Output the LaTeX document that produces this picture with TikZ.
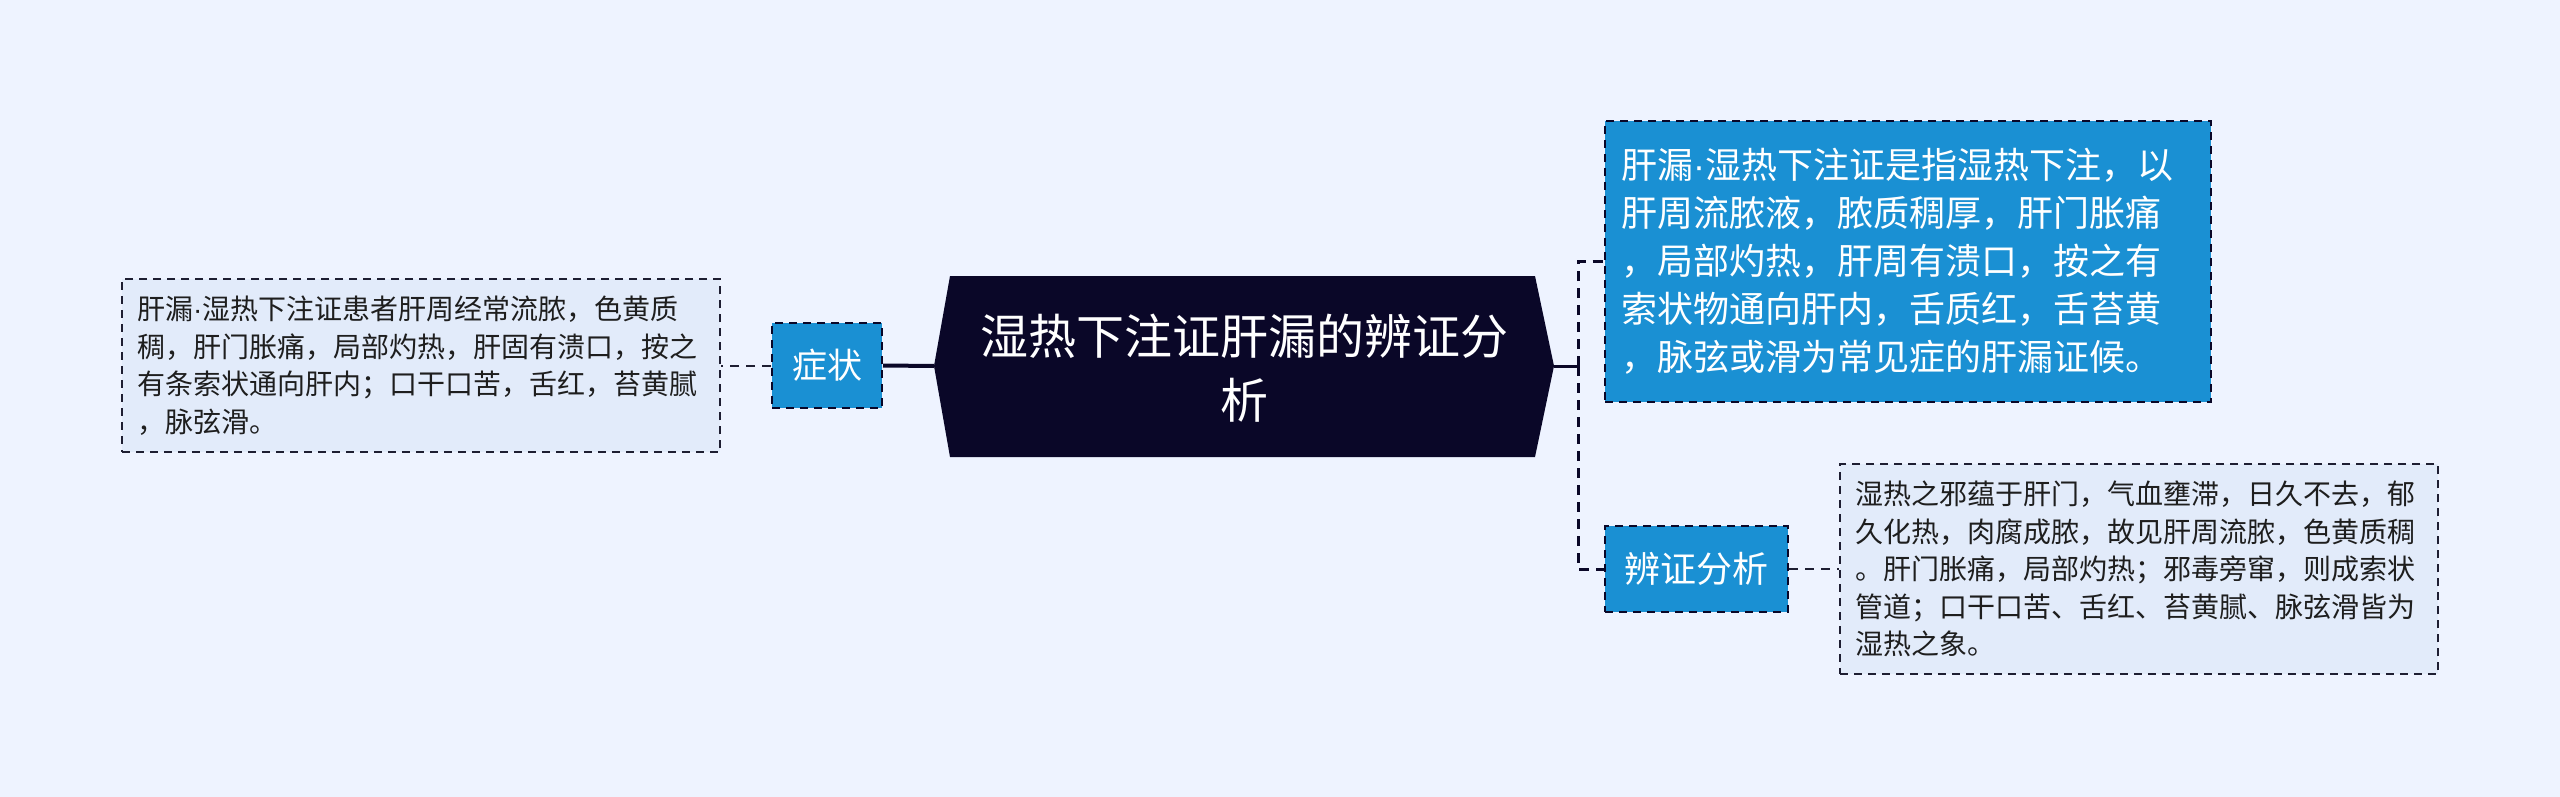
\documentclass[tikz,border=0pt]{standalone}
\usepackage{fontspec}
\setmainfont{Noto Sans CJK SC}
\newfontfamily\latinfont{Liberation Sans}
\newcommand{\mdot}{{\latinfont ·}}
\definecolor{bg}{RGB}{238,243,255}
\definecolor{navy}{RGB}{10,7,40}
\definecolor{blueb}{RGB}{26,144,211}
\definecolor{txtfill}{RGB}{226,235,250}
\definecolor{boxline}{RGB}{30,30,50}
\definecolor{textdark}{RGB}{30,30,30}
\begin{document}
\begin{tikzpicture}[x=1pt,y=-1pt,
  txtbox/.style={draw=boxline, dash pattern=on 8pt off 6pt, line width=2pt, fill=txtfill,
    inner xsep=15pt, inner ysep=0pt, align=left, text=textdark,
    font=\fontsize{28pt}{37.5pt}\selectfont},
  bluebox/.style={draw=navy, dash pattern=on 8pt off 6pt, line width=2pt, fill=blueb,
    inner xsep=16pt, inner ysep=0pt, align=center, text=white},
  conn/.style={draw=navy, line width=3pt},
  dconn/.style={draw=navy, line width=3pt, dash pattern=on 10pt off 7pt},
  tconn/.style={draw=boxline, line width=2pt, dash pattern=on 9pt off 7pt}]
\useasboundingbox (0,0) rectangle (2560,797);
\fill[bg] (0,0) rectangle (2560,797);

% root hexagon
\fill[navy] (950,276) -- (1535,276) -- (1554,366) -- (1535,457) -- (950,457) -- (934,366) -- cycle;
\node[text=white, align=center, font=\fontsize{48pt}{64pt}\selectfont] (root) at (1244,368)
  {湿热下注证肝漏的辨证分\\析};
\coordinate (rootL) at (934,366);
\coordinate (rootR) at (1554,366);
\coordinate (junc) at (1578,366);

% left branch
\node[bluebox, minimum width=110pt, minimum height=85pt, font=\fontsize{35pt}{40pt}\selectfont]
  (zz) at (827,365.5) {症状};
\node[txtbox, text width=568pt, minimum width=598pt, minimum height=173pt] (lbox) at (421,365.5)
  {肝漏\mdot 湿热下注证患者肝周经常流脓，色黄质\\稠，肝门胀痛，局部灼热，肝固有溃口，按之\\有条索状通向肝内；口干口苦，舌红，苔黄腻\\，脉弦滑。};

% right branch
\node[bluebox, align=left, text width=574pt, minimum width=606pt, minimum height=281pt,
  font=\fontsize{36pt}{48pt}\selectfont] (tbox) at (1908,261.5)
  {肝漏\mdot 湿热下注证是指湿热下注，以\\肝周流脓液，脓质稠厚，肝门胀痛\\，局部灼热，肝周有溃口，按之有\\索状物通向肝内，舌质红，舌苔黄\\，脉弦或滑为常见症的肝漏证候。};
\node[bluebox, minimum width=183pt, minimum height=86pt, font=\fontsize{36pt}{40pt}\selectfont]
  (bz) at (1696.5,569) {辨证分析};
\node[txtbox, text width=568pt, minimum width=598pt, minimum height=210pt] (rbox) at (2139,569)
  {湿热之邪蕴于肝门，气血壅滞，日久不去，郁\\久化热，肉腐成脓，故见肝周流脓，色黄质稠\\。肝门胀痛，局部灼热；邪毒旁窜，则成索状\\管道；口干口苦、舌红、苔黄腻、脉弦滑皆为\\湿热之象。};

% connectors
\draw[conn, line width=4pt] (rootL) -- (zz.east);
\draw[tconn] (zz.west) -- (lbox.east);
\draw[conn] (rootR) -- (junc);
\draw[dconn] (junc) |- (tbox.west);
\draw[dconn] (junc) |- (bz.west);
\draw[tconn] (bz.east) -- (rbox.west);
\end{tikzpicture}
\end{document}
